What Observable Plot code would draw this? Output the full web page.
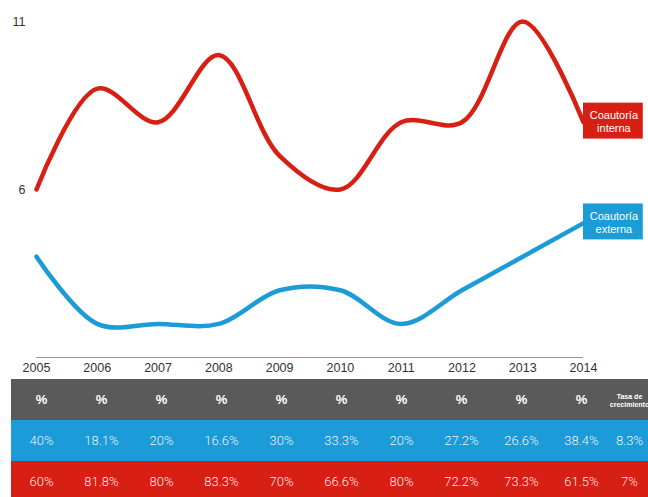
<!DOCTYPE html>
<html>
<head>
<meta charset="utf-8">
<script src="https://cdn.jsdelivr.net/npm/d3@7"></script>
<script src="https://cdn.jsdelivr.net/npm/@observablehq/plot@0.6"></script>
<style>
  html, body { margin: 0; padding: 0; background: #fff; }
  #chart svg { display: block; }
</style>
</head>
<body>
<div id="chart"></div>
<script>
const years = [2005, 2006, 2007, 2008, 2009, 2010, 2011, 2012, 2013, 2014];
const interna = [6, 9, 8, 10, 7, 6, 8, 8, 11, 8];
const externa = [4, 2, 2, 2, 3, 3, 2, 3, 4, 5];
const pctExterna = ["40%", "18.1%", "20%", "16.6%", "30%", "33.3%", "20%", "27.2%", "26.6%", "38.4%"];
const pctInterna = ["60%", "81.8%", "80%", "83.3%", "70%", "66.6%", "80%", "72.2%", "73.3%", "61.5%"];
const growthExterna = "8.3%";
const growthInterna = "7%";
const headerLabel = "%";
const growthHeader = "Tasa de\ncrecimiento";
const yTicks = [6, 11];
const seriesNames = ["Coautoría\ninterna", "Coautoría\nexterna"];

const RED = "#d81f14";
const BLUE = "#1b9bd7";
const GRAY = "#5a5a5a";
const FONT = "'Liberation Sans', Arial, sans-serif";
const LIGHT = "Roboto, 'Liberation Sans', sans-serif";

const lineData = [
  ...years.map((y, i) => ({year: y, value: interna[i], s: "interna"})),
  ...years.map((y, i) => ({year: y, value: externa[i], s: "externa"}))
];
const lastPts = [
  {year: years[years.length - 1], value: interna[interna.length - 1], label: seriesNames[0], color: RED},
  {year: years[years.length - 1], value: externa[externa.length - 1], label: seriesNames[1], color: BLUE}
];

const chartTop = Plot.plot({
  width: 648,
  height: 378,
  marginTop: 21,
  marginBottom: 21,
  marginLeft: 36,
  marginRight: 65,
  style: {fontFamily: FONT, fontSize: "12.5px", color: "#333", background: "#fff", overflow: "visible"},
  x: {domain: [years[0], years[years.length - 1]], ticks: years, tickFormat: d => String(d), tickSize: 0, tickPadding: 6, label: null},
  y: {domain: [1, 11], ticks: yTicks, tickSize: 0, tickPadding: 11, label: null},
  marks: [
    Plot.ruleY([1], {stroke: "#9a9a9a", strokeWidth: 1}),
    Plot.line(lineData, {x: "year", y: "value", z: "s", stroke: d => d.s === "interna" ? RED : BLUE, strokeWidth: 4.5, curve: "catmull-rom"}),
    Plot.rect(lastPts, {x1: "year", x2: d => d.year + 1, y1: d => d.value - 0.5, y2: d => d.value + 0.57, fill: "color", insetRight: 1}),
    Plot.text(lastPts, {x: d => d.year + 0.5, y: d => d.value + 0.03, text: "label", fill: "white", fontSize: 11, lineHeight: 1.2})
  ]
});

const cols = [...years.map(String), "tasa"];
const rows = ["h", "b", "r"];
const rowColor = {h: GRAY, b: BLUE, r: RED};
const cells = [];
cols.forEach((c, i) => {
  const isT = c === "tasa";
  cells.push({col: c, row: "h", text: isT ? growthHeader : headerLabel, t: isT});
  cells.push({col: c, row: "b", text: isT ? growthExterna : pctExterna[i], t: isT});
  cells.push({col: c, row: "r", text: isT ? growthInterna : pctInterna[i], t: isT});
});
const bw = 60.8;
const tasaShift = -12;

const chartTable = Plot.plot({
  width: 648,
  height: 119,
  margin: 0,
  style: {fontFamily: FONT, background: "#fff", overflow: "hidden"},
  x: {type: "band", domain: cols, range: [7, 7 + bw * cols.length], padding: 0, axis: null},
  y: {type: "band", domain: rows, range: [0, 124.5], padding: 0, axis: null},
  marks: [
    Plot.cell(cells, {x: "col", y: "row", fill: d => rowColor[d.row]}),
    Plot.ruleX(cells.filter(d => d.col !== cols[0]), {x: "col", y: "row", dx: -bw / 2, stroke: "white", strokeOpacity: 0.2, strokeWidth: 1}),
    Plot.text(cells.filter(d => d.row === "h" && !d.t), {x: "col", y: "row", text: "text", fill: "white", fontSize: 13, fontWeight: "bold"}),
    Plot.text(cells.filter(d => d.row === "h" && d.t), {x: "col", y: "row", text: "text", dx: tasaShift, fill: "white", fontSize: 7, fontWeight: "bold", lineHeight: 1.15}),
    Plot.text(cells.filter(d => d.row !== "h" && !d.t), {x: "col", y: "row", text: "text", fill: "white", fillOpacity: 0.92, fontSize: 13, fontFamily: LIGHT, fontWeight: 300}),
    Plot.text(cells.filter(d => d.row !== "h" && d.t), {x: "col", y: "row", text: "text", dx: tasaShift, fill: "white", fillOpacity: 0.92, fontSize: 13, fontFamily: LIGHT, fontWeight: 300})
  ]
});

document.getElementById("chart").append(chartTop, chartTable);
</script>
</body>
</html>
